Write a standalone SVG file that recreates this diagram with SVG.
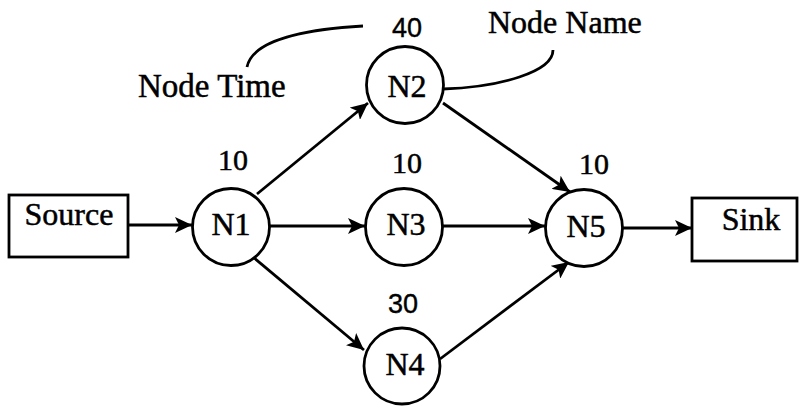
<svg xmlns="http://www.w3.org/2000/svg" width="799" height="406" viewBox="0 0 799 406">
  <style>
    .node circle, .box rect { fill: #fff; stroke: #000; stroke-width: 2.8; }
    .lbl { font-family: "Liberation Serif", "Times New Roman", serif; font-size: 32px; fill: #000; stroke: #000; stroke-width: 0.5; text-anchor: middle; }
    .tser { font-family: "Liberation Serif", "Times New Roman", serif; font-size: 30px; fill: #000; stroke: #000; stroke-width: 0.5; text-anchor: middle; }
    .tsan { font-family: "Liberation Sans", Arial, sans-serif; font-size: 27px; fill: #000; stroke: #000; stroke-width: 0.4; text-anchor: middle; }
    .edge { stroke: #000; stroke-width: 2.8; fill: none; marker-end: url(#arrow); }
    .lead { stroke: #000; stroke-width: 2.8; fill: none; }
  </style>
  <defs>
    <marker id="arrow" markerUnits="userSpaceOnUse" markerWidth="18" markerHeight="16" refX="17" refY="8" orient="auto">
      <path d="M0,0 L17,8 L0,16 L4,8 Z" fill="#000"/>
    </marker>
  </defs>
  <rect width="799" height="406" fill="#fff"/>

  <!-- directed edges between nodes -->
  <g id="connectors">
    <line class="edge" x1="128" y1="225" x2="192" y2="225"/>
    <line class="edge" x1="257" y1="194" x2="368" y2="103"/>
    <line class="edge" x1="270" y1="226" x2="365" y2="226"/>
    <line class="edge" x1="253" y1="257" x2="364" y2="350"/>
    <line class="edge" x1="443" y1="103" x2="570" y2="192"/>
    <line class="edge" x1="443" y1="226" x2="545" y2="226"/>
    <line class="edge" x1="440" y1="359" x2="569" y2="262"/>
    <line class="edge" x1="623" y1="228" x2="692" y2="228"/>
  </g>

  <!-- callout labels with leader curves -->
  <g id="annotations">
    <path class="lead" d="M247,67 C252,42 295,30 363,26"/>
    <text class="lbl" x="138" y="97" style="text-anchor:start;font-size:33px">Node Time</text>
    <path class="lead" d="M443,89 C500,87 553,72 553,50"/>
    <text class="lbl" x="488" y="33" style="text-anchor:start">Node Name</text>
  </g>

  <g id="source" class="box">
    <rect x="9" y="195" width="119" height="62"/>
    <text class="lbl" x="69" y="225">Source</text>
  </g>

  <g id="sink" class="box">
    <rect x="692" y="198" width="105" height="63"/>
    <text class="lbl" x="751" y="230">Sink</text>
  </g>

  <g id="n1" class="node">
    <circle cx="231" cy="227" r="38.5"/>
    <text class="lbl" x="231" y="235">N1</text>
    <text class="tser" x="233" y="170">10</text>
  </g>

  <g id="n2" class="node">
    <circle cx="405" cy="85" r="38.5"/>
    <text class="lbl" x="407" y="97">N2</text>
    <text class="tsan" x="407" y="37">40</text>
  </g>

  <g id="n3" class="node">
    <circle cx="404" cy="227" r="38.5"/>
    <text class="lbl" x="406" y="235">N3</text>
    <text class="tser" x="407" y="173">10</text>
  </g>

  <g id="n4" class="node">
    <circle cx="402" cy="366" r="38"/>
    <text class="lbl" x="405" y="375">N4</text>
    <text class="tsan" x="403" y="313">30</text>
  </g>

  <g id="n5" class="node">
    <circle cx="584" cy="228" r="38.5"/>
    <text class="lbl" x="586" y="237">N5</text>
    <text class="tser" x="594" y="174">10</text>
  </g>
</svg>
